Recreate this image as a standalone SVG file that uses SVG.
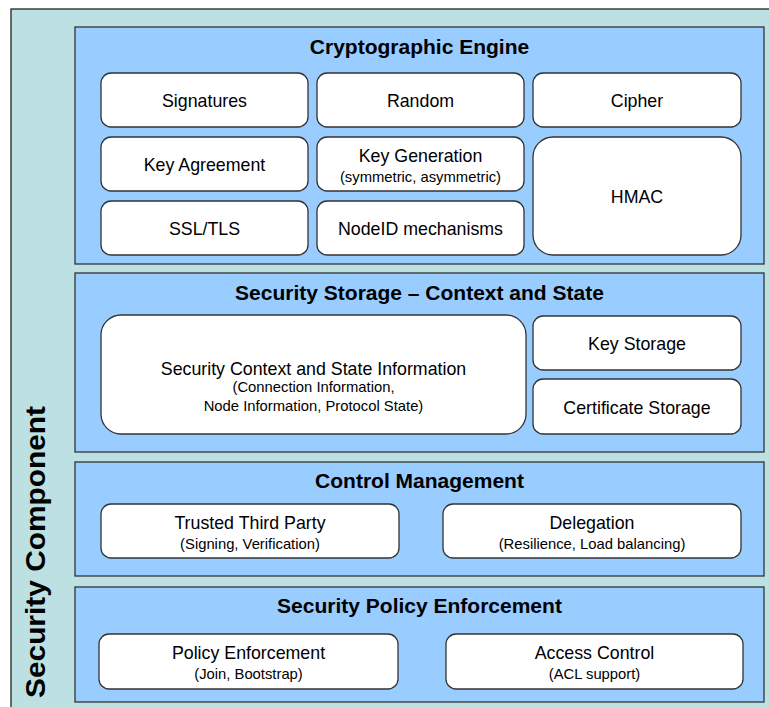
<svg xmlns="http://www.w3.org/2000/svg" width="769" height="707" viewBox="0 0 769 707">
  <style>
    .frame { fill: #bde0e3; stroke: #222; stroke-width: 1.3; }
    .panel { fill: #99ccff; stroke: #333; stroke-width: 1.3; }
    .box { fill: #ffffff; stroke: #333; stroke-width: 1.3; }
    text { font-family: "Liberation Sans", Arial, sans-serif; fill: #000; text-anchor: middle; }
    .title { font-size: 21px; font-weight: bold; }
    .label { font-size: 17.8px; }
    .sub { font-size: 14.8px; }
    .side { font-size: 28px; font-weight: bold; }
  </style>

  <!-- outer container -->
  <g id="security-component">
    <rect class="frame" x="11" y="9" width="770" height="710"/>
    <text class="side" transform="translate(45,552) rotate(-90)" textLength="292" lengthAdjust="spacingAndGlyphs">Security Component</text>
  </g>

  <!-- Cryptographic Engine -->
  <g id="crypto-engine">
    <rect class="panel" x="75" y="27" width="689" height="237"/>
    <text class="title" x="419.5" y="54">Cryptographic Engine</text>
  </g>
  <g id="signatures">
    <rect class="box" x="101" y="73" width="207" height="54" rx="10"/>
    <text class="label" x="204.5" y="107">Signatures</text>
  </g>
  <g id="random">
    <rect class="box" x="317" y="73" width="207" height="54" rx="10"/>
    <text class="label" x="420.5" y="107">Random</text>
  </g>
  <g id="cipher">
    <rect class="box" x="533" y="73" width="208" height="54" rx="10"/>
    <text class="label" x="637" y="107">Cipher</text>
  </g>
  <g id="key-agreement">
    <rect class="box" x="101" y="137" width="207" height="54" rx="10"/>
    <text class="label" x="204.5" y="171">Key Agreement</text>
  </g>
  <g id="key-generation">
    <rect class="box" x="317" y="137" width="207" height="54" rx="10"/>
    <text class="label" x="420.5" y="162">Key Generation</text>
    <text class="sub" x="420.5" y="182">(symmetric, asymmetric)</text>
  </g>
  <g id="hmac">
    <rect class="box" x="533" y="137" width="208" height="118" rx="20"/>
    <text class="label" x="637" y="203">HMAC</text>
  </g>
  <g id="ssl-tls">
    <rect class="box" x="101" y="201" width="207" height="54" rx="10"/>
    <text class="label" x="204.5" y="235">SSL/TLS</text>
  </g>
  <g id="nodeid">
    <rect class="box" x="317" y="201" width="207" height="54" rx="10"/>
    <text class="label" x="420.5" y="235">NodeID mechanisms</text>
  </g>

  <!-- Security Storage -->
  <g id="security-storage">
    <rect class="panel" x="75" y="273" width="689" height="179"/>
    <text class="title" x="419.5" y="300">Security Storage – Context and State</text>
  </g>
  <g id="context-state">
    <rect class="box" x="101" y="315" width="425" height="119" rx="20"/>
    <text class="label" x="313.5" y="375">Security Context and State Information</text>
    <text class="sub" x="313.5" y="392">(Connection Information,</text>
    <text class="sub" x="313.5" y="411">Node Information, Protocol State)</text>
  </g>
  <g id="key-storage">
    <rect class="box" x="533" y="316" width="208" height="54" rx="10"/>
    <text class="label" x="637" y="350">Key Storage</text>
  </g>
  <g id="certificate-storage">
    <rect class="box" x="533" y="379" width="208" height="55" rx="10"/>
    <text class="label" x="637" y="414">Certificate Storage</text>
  </g>

  <!-- Control Management -->
  <g id="control-management">
    <rect class="panel" x="75" y="462" width="689" height="114"/>
    <text class="title" x="419.5" y="488">Control Management</text>
  </g>
  <g id="trusted-third-party">
    <rect class="box" x="101" y="504" width="298" height="54" rx="10"/>
    <text class="label" x="250" y="529">Trusted Third Party</text>
    <text class="sub" x="250" y="549">(Signing, Verification)</text>
  </g>
  <g id="delegation">
    <rect class="box" x="443" y="504" width="298" height="54" rx="10"/>
    <text class="label" x="592" y="529">Delegation</text>
    <text class="sub" x="592" y="549">(Resilience, Load balancing)</text>
  </g>

  <!-- Security Policy Enforcement -->
  <g id="policy-enforcement-layer">
    <rect class="panel" x="75" y="587" width="689" height="115"/>
    <text class="title" x="419.5" y="613">Security Policy Enforcement</text>
  </g>
  <g id="policy-enforcement">
    <rect class="box" x="99" y="634" width="299" height="55" rx="10"/>
    <text class="label" x="248.5" y="659">Policy Enforcement</text>
    <text class="sub" x="248.5" y="679">(Join, Bootstrap)</text>
  </g>
  <g id="access-control">
    <rect class="box" x="446" y="634" width="297" height="55" rx="10"/>
    <text class="label" x="594.5" y="659">Access Control</text>
    <text class="sub" x="594.5" y="679">(ACL support)</text>
  </g>

  <!-- no connectors between the layers -->
  <g id="connectors"/>
</svg>
